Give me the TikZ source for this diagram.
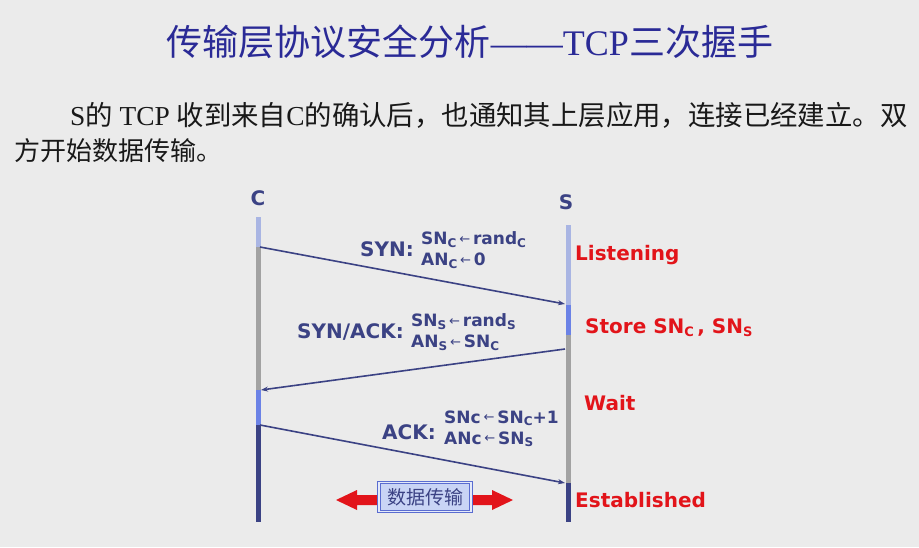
\documentclass[tikz,border=0pt]{standalone}
\usepackage{fontspec}
\setmainfont{Liberation Serif}
\newfontfamily\cjk{Noto Sans CJK SC}
\newfontfamily\dv{DejaVu Sans}
\usetikzlibrary{arrows.meta}
\definecolor{bg}{HTML}{EBEBEB}
\definecolor{titleblue}{HTML}{2A2A96}
\definecolor{navy}{HTML}{3B4284}
\definecolor{lblue}{HTML}{A9B5E3}
\definecolor{mblue}{HTML}{6B82E6}
\definecolor{tgray}{HTML}{A2A2A2}
\definecolor{red1}{HTML}{E2141A}
\definecolor{boxfill}{HTML}{C9D4F5}
\definecolor{boxdraw}{HTML}{5A6CD0}
\newcommand\lsub[1]{{\fontsize{12}{12}\selectfont\raisebox{-2.5pt}{#1}}}
\newcommand\rsub[1]{{\fontsize{13}{13}\selectfont\raisebox{-3pt}{#1}}}
\newcommand\larr{{\mdseries\fontsize{13}{13}\selectfont\raisebox{1.5pt}{←}}}
\tikzset{
  msg/.style={draw=navy, line width=1.6pt, -{Stealth[length=7pt,width=5pt]}},
  lane/.style={line width=5pt},
  big/.style={font=\dv\bfseries\fontsize{20}{22}\selectfont, text=navy, inner sep=0pt},
  small/.style={font=\dv\bfseries\fontsize{17}{21}\selectfont, text=navy, inner sep=0pt, align=left},
  state/.style={font=\dv\bfseries\fontsize{20}{22}\selectfont, text=red1, inner sep=0pt, anchor=west},
}
\begin{document}
\begin{tikzpicture}[x=1pt,y=-1pt]
\fill[bg] (0,0) rectangle (919,547);
\useasboundingbox (0,0) rectangle (919,547);

% title
\node[text=titleblue, font=\fontsize{36}{40}\selectfont, inner sep=0pt] (title) at (470,42)
  {{\cjk 传输层协议安全分析}——TCP{\cjk 三次握手}};

% paragraph
\node[text=black!90, font=\fontsize{27.4}{30}\selectfont, inner sep=0pt, anchor=west] (p1) at (70,115)
  {S{\cjk 的} TCP {\cjk 收到来自}C{\cjk 的确认后，也通知其上层应用，连接已经建立。双}};
\node[text=black!90, font=\fontsize{26}{30}\selectfont, inner sep=0pt, anchor=west] (p2) at (14,151)
  {{\cjk 方开始数据传输。}};

% lane labels
\node[big] (C) at (258,198) {C};
\node[big] (S) at (566,202) {S};

% C lane
\draw[lane, lblue] (258,217) -- (258,247);
\draw[lane, tgray] (258,247) -- (258,390);
\draw[lane, mblue] (258,390) -- (258,425);
\draw[lane, navy] (258,425) -- (258,522);
% S lane
\draw[lane, lblue] (568,225) -- (568,305);
\draw[lane, mblue] (568,305) -- (568,335);
\draw[lane, tgray] (568,335) -- (568,483);
\draw[lane, navy] (568,483) -- (568,522);

% endpoints
\coordinate (c1) at (260,247);
\coordinate (s1) at (565,304);
\coordinate (s2) at (565,349);
\coordinate (c2) at (261,390);
\coordinate (c3) at (260,425);
\coordinate (s3) at (565,483);

\draw[msg] (c1) -- (s1);
\draw[msg] (s2) -- (c2);
\draw[msg] (c3) -- (s3);

% message labels
\node[big, anchor=east] (syn) at (414,249) {SYN:};
\node[small, anchor=west] (synv) at (421,250) {SN\lsub{C}\,\larr\,rand\lsub{C}\\AN\lsub{C}\,\larr\,0};
\node[big, anchor=east] (synack) at (404,332) {SYN/ACK:};
\node[small, anchor=west] (synackv) at (411,332) {SN\lsub{S}\,\larr\,rand\lsub{S}\\AN\lsub{S}\,\larr\,SN\lsub{C}};
\node[big, anchor=east] (ack) at (436,432) {ACK:};
\node[small, anchor=west] (ackv) at (444,429) {SNc\,\larr\,SN\lsub{C}+1\\ANc\,\larr\,SN\lsub{S}};

% states
\node[state] (listen) at (575,255) {Listening};
\node[state] (store) at (585,328) {Store SN\rsub{C}\,, SN\rsub{S}};
\node[state] (wait) at (584,403) {Wait};
\node[state] (est) at (575,500) {Established};

% data transfer arrow
\fill[red1] (336,500) -- (357,490) -- (357,495) -- (492,495) -- (492,490) -- (513,500)
  -- (492,510) -- (492,505) -- (357,505) -- (357,510) -- cycle;
\node[draw=boxdraw, double=boxfill!50!white, double distance=1.2pt, fill=boxfill, line width=1pt,
  minimum width=92pt, minimum height=29pt, inner sep=0pt, text=navy,
  font=\cjk\fontsize{19}{19}\selectfont] (data) at (425,497) {数据传输};
\end{tikzpicture}
\end{document}
